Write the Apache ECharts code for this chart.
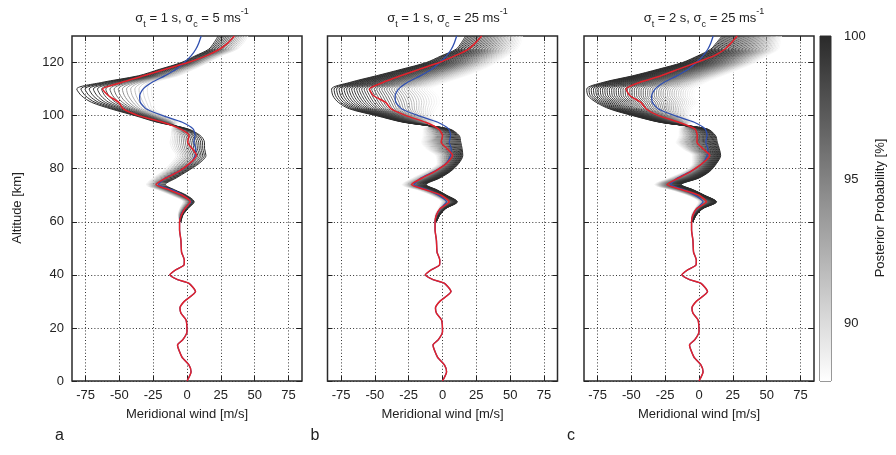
<!DOCTYPE html>
<html>
<head>
<meta charset="utf-8">
<script src="https://cdn.jsdelivr.net/npm/echarts@6/dist/echarts.min.js"></script>
<style>
  html, body { margin: 0; padding: 0; background: #fff; }
  #chart { width: 896px; height: 455px; }
</style>
</head>
<body>
<div id="chart"></div>
<script>
// Lower atmosphere (0-57 km): single well-constrained profile shared by all retrievals
const ALT_LOW  = [0, 3.5, 6, 9, 13.6, 15.5, 18.6, 23, 25.5, 27.5, 30, 33.7, 36.8, 38.2, 40, 42, 43.7, 45.6, 48.5, 53, 57];
const WIND_LOW = [0, 3, 1.5, -3.7, -7, -3.2, 0, -0.7, -4.4, -5.2, -2, 6.3, 1.5, -7, -12.7, -8, -2.2, -2, -4, -4.5, -5.5];

// Upper altitudes (60-130 km)
const ALT_UP = [60, 62.5, 65, 67.5, 70, 72, 74, 76.5, 79, 82, 85, 87.5, 90, 92.5, 95, 97.5, 100, 102.5, 105, 107.5, 110, 112.5, 115, 117.5, 120, 122.5, 125, 127.5, 130];

// True wind profile (blue)
const TRUTH_UP = [-5.5, -4.5, -1.5, 3, -3, -11, -21, -16, -6, 2.5, 6, 6.5, 5, 6, 4.5, -3.5, -18, -30, -34.5, -35, -32.5, -26, -16.5, -8, -2, 3, 6.5, 8.8, 10.5];

// Posterior mean profiles (red)
const MEAN_A = [-5.5, -4.2, -1.5, 2.5, -3.5, -13, -23, -15.5, -6, 2, 7, 4, 0.5, 1.5, -5, -18, -36, -47, -50.5, -58, -62.5, -48.5, -32, -16, 0.7, 14, 24, 30.5, 35];
const MEAN_B = [-5.5, -4.5, -1.7, 5, -1, -12, -23, -15, -5.5, 3, 7.5, 3.5, -1, 0, -3, -12.5, -27, -38, -42, -51, -54, -44, -31, -17, -2.3, 9, 19, 24.5, 29];
const MEAN_C = [-5.5, -4.5, -1.7, 5.5, 0, -12, -23.8, -15, -6, 2.5, 8, 3, -1.5, -1.3, -3, -15, -30, -39, -43, -51, -54, -44, -28, -15, -2, 11, 19, 24, 28.2];

// Ensemble envelope: edge reached by the most probable members / by the least probable ones
const HIGH_EDGE_A = [-4.5, -3, 0.8, 5.3, -0.5, -9, -16, -8, 0, 9, 14, 13, 12.9, 9.8, 0.7, -22, -38.5, -56, -70.5, -78, -81.5, -63, -36, -20, -4.2, 6, 16, 20, 23];
const LOW_EDGE_A  = [-5.5, -6.5, -5.3, -2.8, -11.5, -21, -30, -25, -18, -12, -8, -11, -12.5, -11.5, -11.5, -6.6, -16.5, -23.8, -24.8, -26, -26.3, -23.8, -6.6, 5, 15.4, 25, 37, 42, 45];
const HIGH_EDGE_B = [-4.5, -2, 2.5, 11, 3, -4, -12, -2, 6, 12, 15, 14.5, 13.5, 12.3, 5, -29, -49, -68.5, -77, -81, -82, -68.5, -49, -30, -12, -1, 10, 14, 17];
const LOW_EDGE_B  = [-5.5, -5.5, -3, -1, -8, -18, -30, -22, -12, -4, -5, -12, -15.5, -14.3, -14.3, -4.8, -7.2, -4.8, -2.3, -3.5, -8, 2.6, 17.3, 30, 40, 48, 55, 58, 59];
const HIGH_EDGE_C = [-4.5, -2, 3, 13, 4, -4, -13, 0, 8, 13, 16, 15, 13.5, 12.2, 6, -29, -49, -66, -76, -82, -83, -71, -49, -30, -12.3, -1, 8.6, 13, 17];
const LOW_EDGE_C  = [-5.5, -5.5, -3, -0.5, -8, -20, -33, -22, -11, -5, -5, -12, -17, -14.7, -14.7, -5, -7.4, -5, -1.3, -3.7, -2.5, 4.9, 17.2, 30, 41.6, 50, 58.8, 60, 61];

// Posterior probability [%] of each ensemble member
const PROB_A = [99.9, 99.8, 99.6, 99.4, 99.1, 98.7, 98.2, 97.6, 96.9, 96.1, 95.2, 94.3, 93.4, 92.5, 91.7, 90.9, 90.1, 89.4, 88.8];
const PROB_B = [99.9, 99.8, 99.8, 99.7, 99.6, 99.5, 99.4, 99.3, 99.1, 99.0, 98.8, 98.6, 98.4, 98.2, 98.0, 97.7, 97.4, 97.1, 96.8, 96.5, 96.1, 95.7, 95.3, 94.9, 94.5, 94.0, 93.6, 93.1, 92.7, 92.2, 91.8, 91.4, 91.0, 90.6, 90.2, 89.8, 89.5, 89.2, 88.9, 88.6, 88.3];
const PROB_C = [99.9, 99.9, 99.8, 99.8, 99.7, 99.7, 99.6, 99.5, 99.4, 99.3, 99.2, 99.1, 99.0, 98.9, 98.7, 98.6, 98.4, 98.2, 98.0, 97.8, 97.6, 97.4, 97.2, 96.9, 96.7, 96.4, 96.1, 95.8, 95.5, 95.2, 94.9, 94.5, 94.2, 93.8, 93.5, 93.1, 92.8, 92.4, 92.0, 91.6, 91.2, 90.8, 90.4, 90.0, 89.6, 89.2, 88.9, 88.6, 88.3];

const X_TICKS = [-75, -50, -25, 0, 25, 50, 75];
const Y_TICKS = [0, 20, 40, 60, 80, 100, 120];
const CB_TICKS = [90, 95, 100];
const PANEL_TITLES = [
  '{m|σ}{s|t}{m| = 1 s, σ}{s|c}{m| = 5 ms}{u|-1}',
  '{m|σ}{s|t}{m| = 1 s, σ}{s|c}{m| = 25 ms}{u|-1}',
  '{m|σ}{s|t}{m| = 2 s, σ}{s|c}{m| = 25 ms}{u|-1}'
];
const PANEL_LETTERS = ['a', 'b', 'c'];
const X_NAME = 'Meridional wind [m/s]';
const Y_NAME = 'Altitude [km]';
const CB_NAME = 'Posterior Probability [%]';

const P_MIN = 88, P_MAX = 100;
const FONT = 'Liberation Sans, Arial, Helvetica, sans-serif';
const TXT = '#222';

function greyFor(p) {
  const f = Math.max(0, Math.min(1, (p - P_MIN) / (P_MAX - P_MIN)));
  const v = Math.round(255 - f * (255 - 42));
  return 'rgb(' + v + ',' + v + ',' + v + ')';
}

const panels = [
  { left: 72,    mean: MEAN_A, hi: HIGH_EDGE_A, lo: LOW_EDGE_A, prob: PROB_A },
  { left: 327.5, mean: MEAN_B, hi: HIGH_EDGE_B, lo: LOW_EDGE_B, prob: PROB_B },
  { left: 584,   mean: MEAN_C, hi: HIGH_EDGE_C, lo: LOW_EDGE_C, prob: PROB_C }
];
const GRID_TOP = 36, GRID_H = 345, GRID_W = 230;

const lowPairs = ALT_LOW.map((a, i) => [WIND_LOW[i], a]);
const truthPairs = lowPairs.concat(ALT_UP.map((a, i) => [TRUTH_UP[i], a]));

const grids = [], xAxes = [], yAxes = [], series = [], titles = [], graphics = [];

const dotted = { show: true, lineStyle: { color: '#333', width: 1, type: [1, 2.2] } };
const tickStyle = { color: '#222', width: 1 };
const noLine = { show: false, onZero: false };

panels.forEach((pn, k) => {
  grids.push({ left: pn.left, top: GRID_TOP, width: GRID_W, height: GRID_H, show: true,
    borderColor: '#2a2a2a', borderWidth: 1.5, backgroundColor: 'transparent', containLabel: false });

  // bottom x axis with labels, top x axis ticks only
  xAxes.push({ gridIndex: k, type: 'value', min: -85, max: 85, position: 'bottom',
    name: X_NAME, nameLocation: 'middle', nameGap: 27,
    nameTextStyle: { fontFamily: FONT, fontSize: 13, color: TXT },
    axisLine: noLine,
    axisTick: { show: true, inside: true, length: 5, customValues: X_TICKS, lineStyle: tickStyle },
    axisLabel: { show: true, customValues: X_TICKS, margin: 8, fontFamily: FONT, fontSize: 13, color: TXT },
    splitLine: dotted });
  xAxes.push({ gridIndex: k, type: 'value', min: -85, max: 85, position: 'top',
    axisLine: noLine,
    axisTick: { show: true, inside: true, length: 5, customValues: X_TICKS, lineStyle: tickStyle },
    axisLabel: { show: false }, splitLine: { show: false } });

  yAxes.push({ gridIndex: k, type: 'value', min: 0, max: 130, position: 'left',
    axisLine: noLine,
    axisTick: { show: true, inside: true, length: 5, customValues: Y_TICKS, lineStyle: tickStyle },
    axisLabel: { show: k === 0, customValues: Y_TICKS, margin: 8, fontFamily: FONT, fontSize: 13, color: TXT },
    splitLine: dotted });
  yAxes.push({ gridIndex: k, type: 'value', min: 0, max: 130, position: 'right',
    axisLine: noLine,
    axisTick: { show: true, inside: true, length: 5, customValues: Y_TICKS, lineStyle: tickStyle },
    axisLabel: { show: false }, splitLine: { show: false } });

  // ensemble members ordered by probability; least probable drawn first
  const n = pn.prob.length;
  const ranked = pn.prob.map((p, i) => ({ p: p, i: i })).sort((a, b) => b.p - a.p);
  const members = ranked.map((m, r) => ({ p: m.p, t: n > 1 ? r / (n - 1) : 0 }));
  members.slice().reverse().forEach(m => {
    const data = ALT_UP.map((a, j) => [pn.hi[j] + m.t * (pn.lo[j] - pn.hi[j]), a]);
    series.push({ type: 'line', xAxisIndex: 2 * k, yAxisIndex: 2 * k, data: data,
      showSymbol: false, smooth: 0.3, silent: true, animation: false,
      lineStyle: { color: greyFor(m.p), width: 1 }, z: 2 });
  });

  series.push({ type: 'line', xAxisIndex: 2 * k, yAxisIndex: 2 * k, data: truthPairs,
    showSymbol: false, smooth: 0.2, silent: true, animation: false,
    lineStyle: { color: '#2f4fb0', width: 1.3 }, z: 3 });
  const meanPairs = lowPairs.concat(ALT_UP.map((a, i) => [pn.mean[i], a]));
  series.push({ type: 'line', xAxisIndex: 2 * k, yAxisIndex: 2 * k, data: meanPairs,
    showSymbol: false, smooth: 0.2, silent: true, animation: false,
    lineStyle: { color: '#e3212b', width: 1.5 }, z: 4 });

  titles.push({ text: PANEL_TITLES[k], left: pn.left + GRID_W / 2, top: 2, textAlign: 'center',
    textStyle: { fontWeight: 'normal', rich: {
      m: { fontFamily: FONT, fontSize: 13, fontWeight: 'normal', color: TXT, lineHeight: 22, verticalAlign: 'middle' },
      s: { fontFamily: FONT, fontSize: 9, fontWeight: 'normal', color: TXT, lineHeight: 9, verticalAlign: 'bottom' },
      u: { fontFamily: FONT, fontSize: 9, fontWeight: 'normal', color: TXT, lineHeight: 9, verticalAlign: 'top' }
    } } });

  graphics.push({ type: 'text', left: pn.left - 17, top: 428,
    style: { text: PANEL_LETTERS[k], font: '16px ' + FONT, fill: TXT } });
});

// colour bar
const cb = 3;
grids.push({ left: 820, top: GRID_TOP, width: 11, height: GRID_H, show: true,
  borderColor: '#333', borderWidth: 1, backgroundColor: 'transparent' });
xAxes.push({ gridIndex: cb, type: 'value', min: 0, max: 1, show: false });
xAxes.push({ gridIndex: cb, type: 'value', min: 0, max: 1, show: false });
yAxes.push({ gridIndex: cb, type: 'value', min: P_MIN, max: P_MAX, position: 'right',
  axisLine: noLine,
  axisTick: { show: true, inside: true, length: 4, customValues: CB_TICKS, lineStyle: tickStyle },
  axisLabel: { show: true, customValues: CB_TICKS, margin: 13, fontFamily: FONT, fontSize: 13, color: TXT },
  splitLine: { show: false } });
yAxes.push({ gridIndex: cb, type: 'value', min: P_MIN, max: P_MAX, position: 'left',
  axisLine: noLine,
  axisTick: { show: true, inside: true, length: 4, customValues: CB_TICKS, lineStyle: tickStyle },
  axisLabel: { show: false }, splitLine: { show: false } });

const stops = [];
for (let p = P_MAX; p >= P_MIN; p -= 1) {
  stops.push({ offset: (P_MAX - p) / (P_MAX - P_MIN), color: greyFor(p) });
}
series.push({ type: 'custom', xAxisIndex: 6, yAxisIndex: 6, data: [[0, P_MIN, 1, P_MAX]],
  silent: true, animation: false, z: 1,
  renderItem: function (params, api) {
    const a = api.coord([api.value(0), api.value(1)]);
    const b = api.coord([api.value(2), api.value(3)]);
    return { type: 'rect',
      shape: { x: a[0], y: b[1], width: b[0] - a[0], height: a[1] - b[1] },
      style: { fill: new echarts.graphic.LinearGradient(0, 0, 0, 1, stops) } };
  } });

graphics.push({ type: 'text', x: 17, y: 208, rotation: Math.PI / 2,
  style: { text: Y_NAME, font: '13px ' + FONT, fill: TXT, textAlign: 'center', textVerticalAlign: 'middle' } });
graphics.push({ type: 'text', x: 880, y: 208, rotation: Math.PI / 2,
  style: { text: CB_NAME, font: '13px ' + FONT, fill: TXT, textAlign: 'center', textVerticalAlign: 'middle' } });

const chart = echarts.init(document.getElementById('chart'), null, { renderer: 'canvas' });
chart.setOption({
  backgroundColor: '#fff',
  animation: false,
  title: titles,
  grid: grids,
  xAxis: xAxes,
  yAxis: yAxes,
  series: series,
  graphic: graphics
});
</script>
</body>
</html>
